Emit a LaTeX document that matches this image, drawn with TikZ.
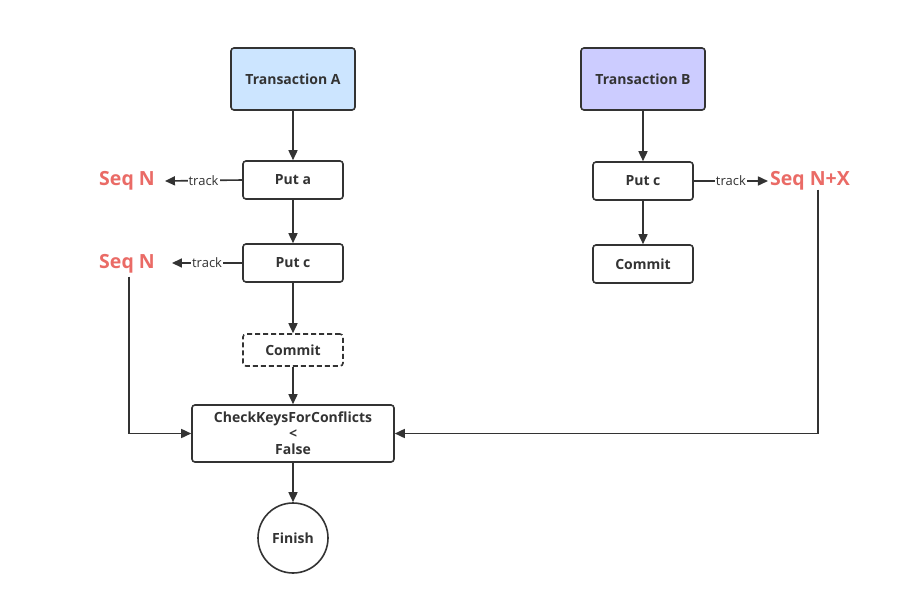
\documentclass[tikz,border=0pt]{standalone}
\usepackage{fontspec}
\setmainfont{Open Sans}
\usetikzlibrary{arrows.meta}
\definecolor{ink}{HTML}{333333}
\definecolor{seqred}{HTML}{EA6B66}
\definecolor{blueA}{HTML}{CCE5FF}
\definecolor{blueB}{HTML}{CCCCFF}
\begin{document}
\begin{tikzpicture}[x=1pt,y=-1pt,
  box/.style={draw=ink,line width=1.6pt,rounded corners=3pt,text=ink,font=\fontsize{14}{16}\selectfont\bfseries,align=center,inner sep=0pt},
  seq/.style={text=seqred,font=\fontsize{19.5}{22}\selectfont\bfseries,inner sep=1pt},
  conn/.style={draw=ink,line width=1.6pt,-{Triangle[length=10pt,width=9pt]}},
  lbl/.style={fill=white,text=ink,font=\fontsize{13}{14}\selectfont,inner sep=1pt}]
\useasboundingbox (0,0) rectangle (923,605);
\fill[white] (0,0) rectangle (923,605);
\node[box,fill=blueA,minimum width=124pt,minimum height=62pt] (ta) at (293,79) {Transaction A};
\node[box,fill=blueB,minimum width=124pt,minimum height=62pt] (tb) at (643,79) {Transaction B};
\node[box,minimum width=100pt,minimum height=38pt] (puta) at (293,180) {Put a};
\node[box,minimum width=100pt,minimum height=38pt] (putc) at (293,263) {Put c};
\node[box,dashed,dash pattern=on 5pt off 3pt,minimum width=100pt,minimum height=32pt] (commitA) at (293,350) {Commit};
\node[box,minimum width=202pt,minimum height=57pt] (check) at (293,433.5) {CheckKeysForConflicts\\\textless\\False};
\node[box,circle,minimum size=70pt] (fin) at (293,538) {Finish};
\node[box,minimum width=100pt,minimum height=38pt] (putcB) at (643,181) {Put c};
\node[box,minimum width=100pt,minimum height=38pt] (commitB) at (643,264) {Commit};
\node[seq] (seq1) at (127,181) {Seq N};
\node[seq] (seq2) at (127,264) {Seq N};
\node[seq] (seq3) at (810,181) {Seq N+X};
\coordinate (c1) at (129,433.5);
\coordinate (c2) at (818,433.5);
\draw[conn] (ta) -- (puta);
\draw[conn] (puta) -- (putc);
\draw[conn] (putc) -- (commitA);
\draw[conn] (commitA) -- (check);
\draw[conn] (check) -- (fin);
\draw[conn] (tb) -- (putcB);
\draw[conn] (putcB) -- (commitB);
\draw[conn] (puta.west) -- node[lbl]{track} ([xshift=9pt]seq1.east);
\draw[conn] (putc.west) -- node[lbl]{track} ([xshift=16pt]seq2.east |- putc.west);
\draw[conn] (putcB.east) -- node[lbl]{track} ([xshift=-1pt]seq3.west);
\draw[conn] ([yshift=-2pt]seq2.south -| c1) -- (c1) -- (check.west);
\draw[conn] ([yshift=2pt]seq3.south -| c2) -- (c2) -- (check.east);
\end{tikzpicture}
\end{document}
